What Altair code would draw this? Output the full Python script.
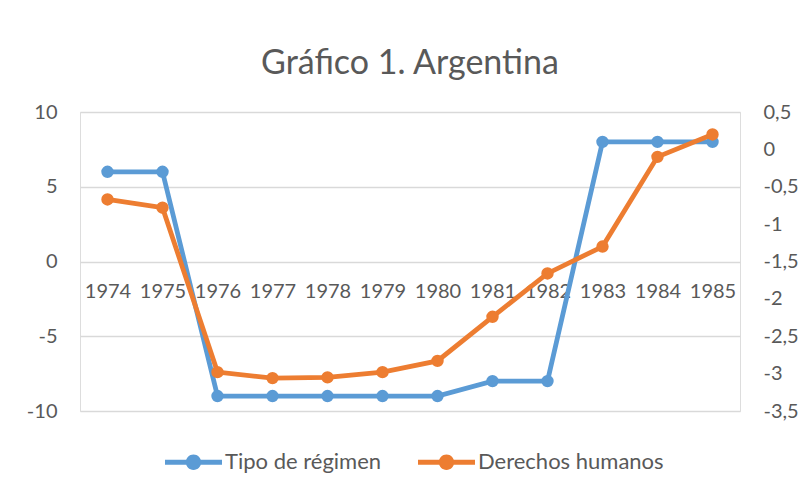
import altair as alt
import pandas as pd

years = ["1974", "1975", "1976", "1977", "1978", "1979", "1980", "1981", "1982", "1983", "1984", "1985"]
regimen = [6, 6, -9, -9, -9, -9, -9, -8, -8, 8, 8, 8]
ddhh = [-0.67, -0.78, -2.98, -3.06, -3.05, -2.98, -2.83, -2.24, -1.66, -1.30, -0.10, 0.20]
series = ["Tipo de régimen", "Derechos humanos"]
colors = ["#5B9BD5", "#ED7D31"]
left_ticks = [-10, -5, 0, 5, 10]
right_ticks = [-3.5, -3, -2.5, -2, -1.5, -1, -0.5, 0, 0.5]

df = pd.DataFrame(
    {"year": years * 2,
     "serie": [series[0]] * len(years) + [series[1]] * len(years),
     "valor": regimen + ddhh}
)

FONT = "Lato"
TXT = "#595959"
GRID = "#D9D9D9"

legend_symbol = ("M-1,-0.09H1V0.09H-1Z "
                 "M0.27,0A0.27,0.27,0,1,1,-0.27,0A0.27,0.27,0,1,1,0.27,0Z")

color = alt.Color(
    "serie:N",
    scale=alt.Scale(domain=series, range=colors),
    legend=alt.Legend(
        title=None, orient="none", direction="horizontal",
        legendX=85, legendY=321.5,
        symbolType=legend_symbol, symbolSize=3249, symbolStrokeWidth=0,
        labelFontSize=22, labelFont=FONT, labelColor=TXT, labelLimit=400,
        labelOffset=3, columnPadding=36,
    ),
)

x = alt.X(
    "year:N", sort=years, title=None,
    scale=alt.Scale(type="point", padding=0.5),
    axis=alt.Axis(orient="bottom", offset=-149.5, domain=False, ticks=False,
                  tickSize=0, grid=False, labelAngle=0, labelPadding=20,
                  labelFontSize=20, labelFont=FONT, labelColor=TXT),
)

point = alt.OverlayMarkDef(filled=True, size=154, opacity=1)

left = alt.Chart(df).transform_filter(
    alt.datum.serie == series[0]
).mark_line(strokeWidth=4.8, point=point).encode(
    x=x,
    y=alt.Y("valor:Q", title=None,
            scale=alt.Scale(domain=[-10, 10], nice=False, zero=False),
            axis=alt.Axis(orient="left", values=left_ticks, grid=True,
                          gridColor=GRID, gridWidth=1.3, domain=False, ticks=False,
                          tickSize=0, labelPadding=23, labelFontSize=20,
                          labelFont=FONT, labelColor=TXT,
                          labelExpr="toString(datum.value)")),
    color=color,
)

right = alt.Chart(df).transform_filter(
    alt.datum.serie == series[1]
).mark_line(strokeWidth=4.8, point=point).encode(
    x=x,
    y=alt.Y("valor:Q", title=None,
            scale=alt.Scale(domain=[-3.5, 0.5], nice=False, zero=False),
            axis=alt.Axis(orient="right", values=right_ticks, grid=False,
                          domain=False, ticks=False, tickSize=0, labelPadding=23,
                          labelFontSize=20, labelFont=FONT, labelColor=TXT,
                          labelExpr="replace(toString(datum.value), '.', ',')")),
    color=color,
)

chart = alt.layer(left, right).resolve_scale(y="independent").properties(
    width=660, height=299,
    title=alt.Title("Gráfico 1. Argentina", fontSize=34, font=FONT, color=TXT,
                    fontWeight="normal", anchor="middle", offset=-13, baseline="bottom"),
    autosize=alt.AutoSizeParams(type="none"),
    padding={"left": 72, "top": 104, "right": 61, "bottom": 77},
).configure_view(stroke=None).configure(background="white")

chart.save("out.html", embed_options={"renderer": "svg", "actions": False})
